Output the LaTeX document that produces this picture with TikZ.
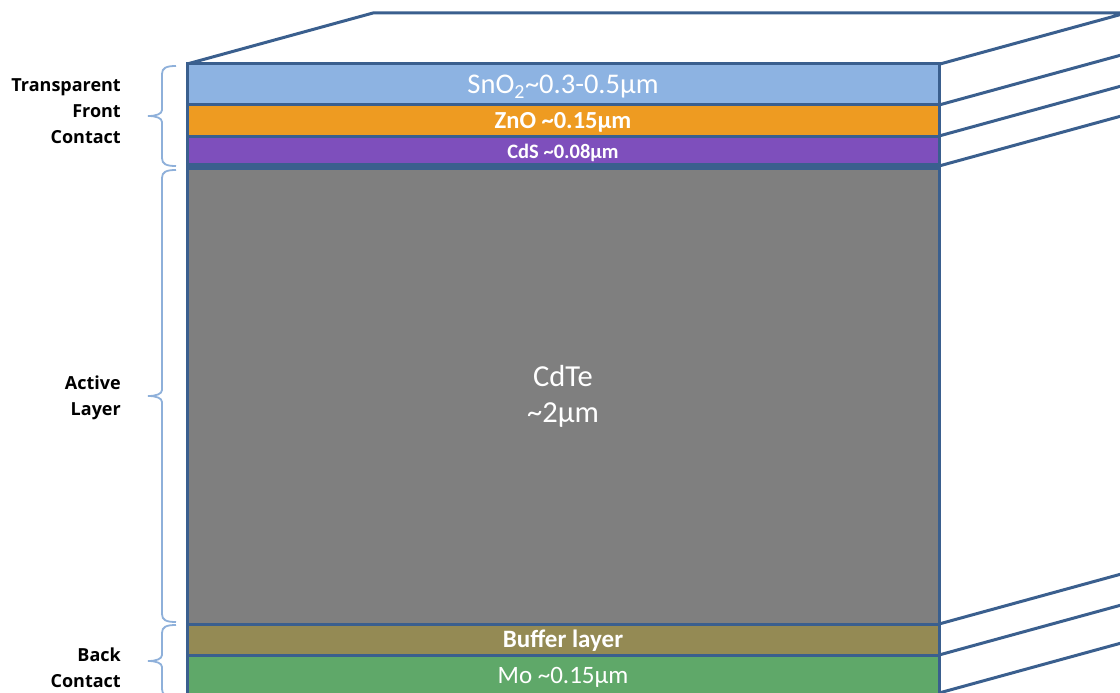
\documentclass[tikz,border=0pt]{standalone}
\usepackage{fontspec}
\setmainfont{Carlito}
\newfontfamily\lblfont{Open Sans}
\definecolor{edge}{HTML}{3A5F8E}
\definecolor{bracecol}{HTML}{8EB0DA}
\definecolor{csno}{HTML}{8DB3E2}
\definecolor{czno}{HTML}{EE9B21}
\definecolor{ccds}{HTML}{7E4FBC}
\definecolor{ccdte}{HTML}{7F7F7F}
\definecolor{cbuf}{HTML}{948A54}
\definecolor{cmo}{HTML}{5FA869}
\newcommand{\tld}{\textasciitilde}
\begin{document}
\begin{tikzpicture}[x=1pt,y=-1pt,
  layer/.style={draw=edge, line width=3pt, minimum width=752pt, inner sep=0pt, outer sep=0pt, anchor=north west},
  txt/.style={text=white, inner sep=0pt, align=center},
  persp/.style={draw=edge, line width=3pt, line join=round},
  brc/.style={draw=bracecol, line width=1.8pt},
  lbl/.style={font=\lblfont\bfseries\fontsize{18}{26}\selectfont, align=right, anchor=east, inner sep=0pt}]
\useasboundingbox (0,0) rectangle (1120,693);
\clip (0,0) rectangle (1120,693);
% top face
\coordinate (tl) at (187,64);
\coordinate (btl) at (373,13);
\coordinate (btr) at (1126,13);
\coordinate (tr) at (940,64);
\draw[persp] (tl) -- (btl) -- (btr) -- (tr);
% layers
\node[layer, fill=csno, minimum height=41pt] (sno) at (187,64) {};
\node[layer, fill=czno, minimum height=31pt] (zno) at (187,105) {};
\node[layer, fill=ccds, minimum height=30pt] (cds) at (187,136) {};
\node[layer, fill=ccdte, minimum height=458pt] (cdte) at (187,166) {};
\node[layer, fill=cbuf, minimum height=31pt] (buf) at (187,624) {};
\node[layer, fill=cmo, minimum height=40pt] (mo) at (187,655) {};
\draw[edge, line width=7pt] (cdte.north west) -- (cdte.north east);
% layer texts
\node[txt, font=\fontsize{28.5}{30}\selectfont] (snot) at ([yshift=-2.5pt]sno.center) {SnO\textsubscript{2}\tld0.3-0.5μm};
\node[txt, font=\bfseries\fontsize{24.5}{26}\selectfont] (znot) at ([yshift=-2pt]zno.center) {ZnO \tld0.15μm};
\node[txt, font=\bfseries\fontsize{20.5}{22}\selectfont] (cdst) at ([yshift=-2pt]cds.center) {CdS \tld0.08μm};
\node[txt, font=\fontsize{30.5}{36}\selectfont] (cdtet) at ([yshift=-1.5pt]cdte.center) {CdTe\\\tld2μm};
\node[txt, font=\bfseries\fontsize{25}{26}\selectfont] (buft) at ([yshift=-1pt]buf.center) {Buffer layer};
\node[txt, font=\fontsize{25}{28}\selectfont] (mot) at ([yshift=-2pt]mo.center) {Mo \tld0.15μm};
% perspective lines
\draw[persp] (sno.south east) -- ++(186,-51);
\draw[persp] (zno.south east) -- ++(186,-51);
\draw[persp] (cds.south east) -- ++(186,-51);
\draw[persp] (cdte.south east) -- ++(186,-51);
\draw[persp] (buf.south east) -- ++(186,-51);
\draw[persp] (mo.north east) ++(0,38) -- ++(186,-51);
% braces
\draw[brc] (176,66) .. controls (166,66) and (162,68) .. (162,74) -- (162,110) .. controls (162,114) and (156,116) .. (148,116) .. controls (156,116) and (162,118) .. (162,122) -- (162,158) .. controls (162,164) and (166,166) .. (176,166);
\draw[brc] (176,170) .. controls (166,170) and (162,172) .. (162,178) -- (162,390) .. controls (162,394) and (156,396) .. (148,396) .. controls (156,396) and (162,398) .. (162,402) -- (162,614) .. controls (162,620) and (166,622) .. (176,622);
\draw[brc] (176,625) .. controls (166,625) and (162,627) .. (162,633) -- (162,655) .. controls (162,659) and (156,661) .. (148,661) .. controls (156,661) and (162,663) .. (162,667) -- (162,689) .. controls (162,695) and (166,697) .. (176,697);
% labels
\node[lbl] (lfront) at (121,111) {Transparent\\Front\\Contact};
\node[lbl] (lact) at (121,398) {Active\\Layer};
\node[lbl] (lback) at (121,668) {Back\\Contact};
\end{tikzpicture}
\end{document}
